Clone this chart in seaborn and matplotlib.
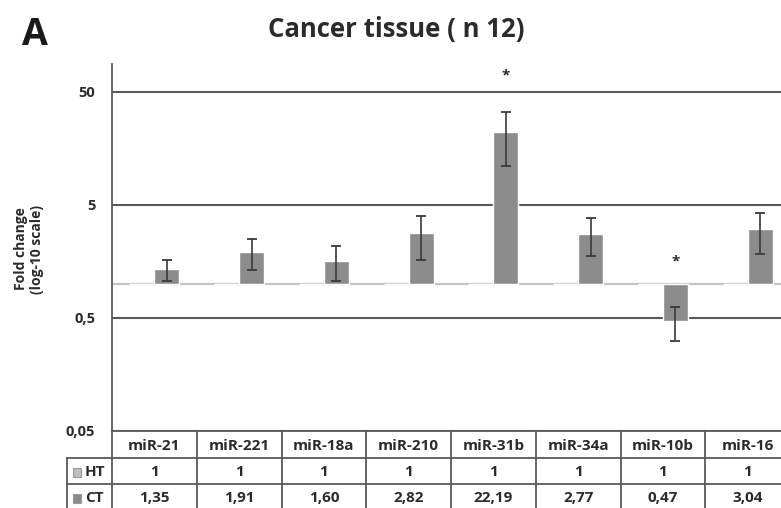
import numpy as np
import pandas as pd
import matplotlib
matplotlib.use("Agg")
import matplotlib.pyplot as plt
import seaborn as sns
from matplotlib.transforms import blended_transform_factory
from matplotlib.patches import Rectangle

# Relative expression (fold change vs. healthy tissue), mean and SD
mirnas = ["miR-21", "miR-221", "miR-18a", "miR-210", "miR-31b", "miR-34a", "miR-10b", "miR-16"]
groups = ["HT", "CT"]
ht_fold = [1, 1, 1, 1, 1, 1, 1, 1]
ct_fold = [1.35, 1.91, 1.60, 2.82, 22.19, 2.77, 0.47, 3.04]
ct_sd = [0.28, 0.58, 0.55, 1.18, 11.2, 1.02, 0.155, 1.2]
significant = ["miR-31b", "miR-10b"]
ytick_values = [0.05, 0.5, 5, 50]
ytick_labels = ["0,05", "0,5", "5", "50"]

sns.set_theme(style="white")
plt.rcParams["font.family"] = ["Open Sans", "DejaVu Sans"]
plt.rcParams["font.weight"] = "bold"

TXT = "#2b2b2b"
LINE = "#595959"
colors = {"HT": "#bfbfbf", "CT": "#8c8c8c"}
BOLD = dict(fontweight="bold")


def fmt(v):
    return f"{v:.2f}".replace(".", ",") if v != int(v) else str(int(v))


df = pd.DataFrame({
    "miRNA": mirnas * 2,
    "group": ["HT"] * len(mirnas) + ["CT"] * len(mirnas),
    "fold": ht_fold + ct_fold,
})
df["log_fold"] = np.log10(df["fold"])

W, H = 781, 508
fig = plt.figure(figsize=(W / 100, H / 100), dpi=100)
ax_left, ax_right, ax_top, ax_bottom = 112, 790, 64, 431
ax = fig.add_axes([ax_left / W, 1 - ax_bottom / H,
                   (ax_right - ax_left) / W, (ax_bottom - ax_top) / H])

sns.barplot(data=df, x="miRNA", y="log_fold", hue="group", hue_order=groups,
            order=mirnas, palette=colors, width=0.59, gap=0, errorbar=None,
            legend=False, ax=ax, zorder=2)

ax.set_xlim(-0.5, len(mirnas) - 0.5)
ax.set_ylim(np.log10(0.05), 1.944)
ax.set_axisbelow(True)

# log-10 axis expressed through log-transformed values
ax.set_yticks(np.log10(ytick_values))
ax.set_yticklabels(ytick_labels, **BOLD)
ax.yaxis.grid(True, color=LINE, lw=1.5)
ax.xaxis.grid(False)
ax.tick_params(axis="y", length=0, pad=12, labelsize=10.5, labelcolor=TXT)
ax.tick_params(axis="x", length=0, labelbottom=False)
ax.set_xlabel("")
ax.set_ylabel("")
for s in ["top", "right"]:
    ax.spines[s].set_visible(False)
ax.spines["left"].set_color(LINE)
ax.spines["left"].set_linewidth(1.3)
ax.spines["bottom"].set_color(LINE)
ax.spines["bottom"].set_linewidth(1.3)

# reference level (fold change = 1)
ax.axhline(0, color="#c4c4c4", lw=1.6, zorder=1.5)

# SD error bars on the CT bars
ct_bars = ax.containers[1]
xs = [p.get_x() + p.get_width() / 2 for p in ct_bars]
ct = np.array(ct_fold)
sd = np.array(ct_sd)
log_ct = np.log10(ct)
lower = log_ct - np.log10(ct - sd)
upper = np.log10(ct + sd) - log_ct
ax.errorbar(xs, log_ct, yerr=[lower, upper], fmt="none", ecolor="#3a3a3a",
            elinewidth=1.2, capsize=3.5, capthick=1.3, zorder=3)

# significance marks
star_offsets = [26, 16]
for name, off in zip(significant, star_offsets):
    i = mirnas.index(name)
    top = max(np.log10(ct[i] + sd[i]), 0)
    ax.annotate("*", (xs[i], top), xytext=(0, off), textcoords="offset points",
                ha="center", va="center", fontsize=11, color=TXT, **BOLD)

# data table beneath the plot
tr = blended_transform_factory(ax.transData, fig.transFigure)
fy = lambda px: 1 - px / H
label_left = -0.5 - (ax_left - 67) / ((ax_right - ax_left) / len(mirnas))
lkw = dict(color=LINE, lw=1.3, transform=tr, clip_on=False)
for y in [458, 484]:
    fig.add_artist(plt.Line2D([label_left, len(mirnas) + 0.5], [fy(y), fy(y)], **lkw))
for k in range(len(mirnas) + 1):
    fig.add_artist(plt.Line2D([k - 0.5, k - 0.5], [fy(431), fy(512)], **lkw))
fig.add_artist(plt.Line2D([label_left, label_left], [fy(458), fy(512)], **lkw))

tkw = dict(transform=tr, ha="center", va="center", fontsize=11, color=TXT, **BOLD)
for i, name in enumerate(mirnas):
    fig.text(i, fy(446), name, **tkw)
    fig.text(i, fy(472), fmt(ht_fold[i]), **tkw)
    fig.text(i, fy(498), fmt(ct_fold[i]), **tkw)

for g, yc in zip(groups, [472, 498]):
    fig.add_artist(Rectangle(((72.5) / W, fy(yc + 4.5)), 8.5 / W, 8.5 / H,
                             transform=fig.transFigure, facecolor=colors[g],
                             edgecolor="#9a9a9a", lw=0.8))
    fig.text(85 / W, fy(yc), g, ha="left", va="center", fontsize=11, color=TXT, **BOLD)

# titles
fig.text(396 / W, fy(30), "Cancer tissue ( n 12)", ha="center", va="center",
         fontsize=18.5, color=TXT, **BOLD)
fig.text(22 / W, fy(35), "A", ha="left", va="center", fontsize=27, color="#1a1a1a", **BOLD)
fig.text(29 / W, fy(249), "Fold change\n(log-10 scale)", ha="center", va="center",
         rotation=90, fontsize=10, color=TXT, linespacing=1.15, **BOLD)

fig.savefig("out.png", dpi=100, facecolor="white")
